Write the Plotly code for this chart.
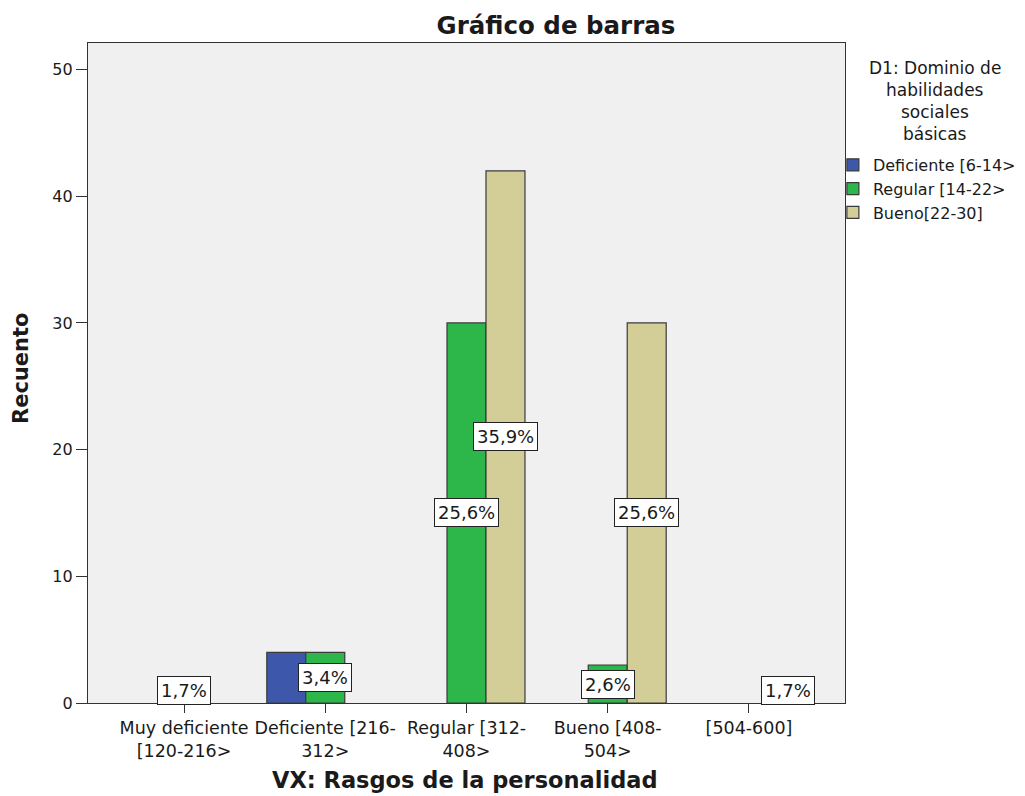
import plotly.graph_objects as go

categories = ["Muy deficiente<br>[120-216>", "Deficiente [216-<br>312>", "Regular [312-<br>408>",
              "Bueno [408-<br>504>", "[504-600]"]
series_names = ["Deficiente [6-14>", "Regular [14-22>", "Bueno[22-30]"]
deficiente = [None, 4, None, None, None]
regular = [2, 4, 30, 3, None]
bueno = [None, None, 42, 30, 2]
label_deficiente = [None, None, None, None, None]
label_regular = ["1,7%", "3,4%", "25,6%", "2,6%", None]
label_bueno = [None, None, "35,9%", "25,6%", "1,7%"]
colors = ["#3D57AB", "#2DB74A", "#D3CE98"]
y_ticks = [0, 10, 20, 30, 40, 50]
legend_title_lines = ["D1: Dominio de", "habilidades", "sociales", "básicas"]

x_pos = list(range(len(categories)))
values = [deficiente, regular, bueno]
labels = [label_deficiente, label_regular, label_bueno]

W, H = 1025, 796
OFF = 8  # page body margin
ML, MT, MR, MB = 88 - OFF, 43 - OFF, W - (845 - OFF), H - (703 - OFF)
PW, PH = W - ML - MR, H - MT - MB


def px(sx):
    return (sx - OFF - ML) / PW


def py(sy):
    return (H - MB - (sy - OFF)) / PH


bargap = 0.172
FONT = "DejaVu Sans"
INK = "#1a1a1a"

fig = go.Figure()
for name, vals, col in zip(series_names, values, colors):
    fig.add_trace(go.Bar(x=x_pos, y=vals, name=name,
                         marker=dict(color=col, line=dict(color="#3a3a3a", width=1.2))))

n = len(series_names)
w = (1 - bargap) / n
for s, labs in enumerate(labels):
    for i, t in enumerate(labs):
        if t is None:
            continue
        v = values[s][i]
        fig.add_annotation(x=x_pos[i] + (s - (n - 1) / 2) * w, y=v / 2, text=t, showarrow=False,
                           xref="x", yref="y", bgcolor="white", bordercolor="#222222", borderwidth=1,
                           borderpad=3, font=dict(family=FONT, size=18, color=INK))

# legend title lines
for k, (line, sy) in enumerate(zip(legend_title_lines, [68, 90, 112, 134])):
    fig.add_annotation(x=px(935), y=py(sy), xref="paper", yref="paper", xanchor="center", yanchor="middle",
                       text=line, showarrow=False, font=dict(family=FONT, size=17, color=INK))

# axis titles
fig.add_annotation(x=px(465), y=py(780), xref="paper", yref="paper", xanchor="center", yanchor="middle",
                   text="<b>VX: Rasgos de la personalidad</b>", showarrow=False,
                   font=dict(family=FONT, size=22.5, color=INK))
fig.add_annotation(x=px(21), y=py(369), xref="paper", yref="paper", xanchor="center", yanchor="middle",
                   text="<b>Recuento</b>", showarrow=False, textangle=-90,
                   font=dict(family=FONT, size=21, color=INK))

fig.update_layout(
    width=W, height=H,
    margin=dict(l=ML, r=MR, t=MT, b=MB, autoexpand=False),
    paper_bgcolor="white", plot_bgcolor="#F0F0F0",
    barmode="group", bargap=bargap, bargroupgap=0,
    title=dict(text="<b>Gráfico de barras</b>", x=(556 - OFF) / W, xanchor="center",
               y=1 - (25 - OFF) / H, yanchor="middle",
               font=dict(family=FONT, size=24.5, color=INK)),
    xaxis=dict(range=[-0.68, 4.68], tickvals=x_pos, ticktext=categories, ticks="outside", ticklen=9,
               tickcolor="#333333", showline=True, linecolor="#333333", linewidth=1.2, mirror=True,
               showgrid=False, zeroline=False, tickfont=dict(family=FONT, size=17.5, color=INK)),
    yaxis=dict(range=[0, 52.1], tickvals=y_ticks, ticks="outside", ticklen=11, tickcolor="#333333",
               showline=True, linecolor="#333333", linewidth=1.2, mirror=True, showgrid=False, zeroline=False,
               tickfont=dict(family=FONT, size=16, color=INK)),
    legend=dict(x=0.984, xanchor="left", y=0.841, yanchor="top", bgcolor="rgba(0,0,0,0)",
                font=dict(family=FONT, size=16, color=INK), tracegroupgap=0, itemwidth=30),
    showlegend=True,
)

fig.write_html("out.html")
